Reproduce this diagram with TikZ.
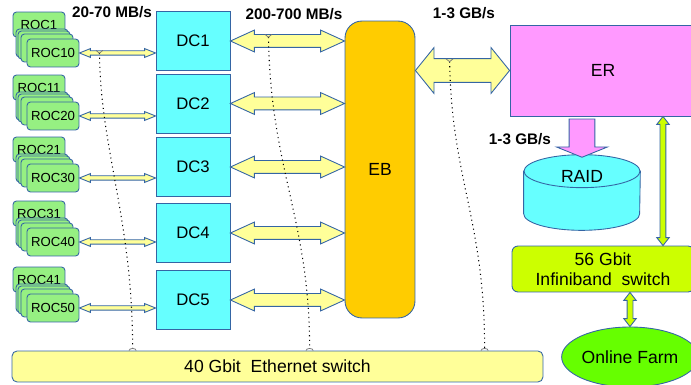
\documentclass[tikz,border=0pt]{standalone}
\usepackage{fontspec}
\setmainfont{Liberation Sans}
\usetikzlibrary{positioning,arrows.meta,calc,shapes.geometric,shapes.arrows}
\definecolor{lineblue}{RGB}{52,101,164}
\definecolor{dccyan}{RGB}{102,255,255}
\definecolor{rocgreen}{RGB}{150,240,130}
\definecolor{ebgold}{RGB}{255,204,0}
\definecolor{ermagenta}{RGB}{255,153,255}
\definecolor{paleyellow}{RGB}{255,255,153}
\definecolor{limeyellow}{RGB}{204,255,0}
\definecolor{farmgreen}{RGB}{102,255,0}
% block arrow laid between two points: style, from, to
\newcommand{\fatlink}[3]{%
  \path let \p1=(#2), \p2=(#3), \n1={veclen(\x2-\x1,\y2-\y1)}, \n2={atan2(\y2-\y1,\x2-\x1)}
    in node[#1,minimum height=\n1,rotate=\n2] at ($(#2)!0.5!(#3)$) {};}

\begin{document}
\begin{tikzpicture}[x=0.02cm,y=-0.02cm,>=Latex,
    box/.style={draw=lineblue,line width=0.5pt,align=center,inner sep=1pt},
    roccard/.style={box,fill=rocgreen,rounded corners=2pt,minimum width=1.04cm,minimum height=0.56cm,font=\fontsize{7.5}{8}\selectfont},
    dcbox/.style={box,fill=dccyan,minimum width=1.48cm,minimum height=1.18cm,font=\fontsize{9.5}{11}\selectfont},
    rate/.style={font=\fontsize{8.7}{10}\selectfont\bfseries},
    arrowbase/.style={draw=lineblue,line width=0.5pt,inner sep=0pt,text depth=0pt},
    thinlink/.style={arrowbase,double arrow,fill=paleyellow,text height=0.07cm,
      double arrow head extend=0.045cm,double arrow tip angle=44},
    fatlink/.style={arrowbase,double arrow,fill=paleyellow,text height=0.24cm,
      double arrow head extend=0.09cm,double arrow tip angle=49},
    erlink/.style={arrowbase,double arrow,fill=paleyellow,text height=0.46cm,
      double arrow head extend=0.22cm,double arrow tip angle=102},
    raidlink/.style={arrowbase,single arrow,fill=ermagenta,text height=0.5cm,
      single arrow head extend=0.25cm,single arrow tip angle=136},
    limelink/.style={arrowbase,double arrow,fill=limeyellow,text height=0.1cm,
      double arrow head extend=0.065cm,double arrow tip angle=76},
    tapline/.style={dotted,line width=0.6pt,{Straight Barb[reversed,length=1.6pt,width=4pt,black!55,line width=0.4pt]}-{Arc Barb[reversed,length=1.4pt,width=4.5pt,black!55,line width=0.4pt]}}]
  \useasboundingbox (0,0) rectangle (691,385);

  \node[box,fill=ebgold,rounded corners=0.34cm,minimum width=1.4cm,minimum height=5.94cm,font=\fontsize{10}{12}\selectfont] (eb) at (380,169.5) {EB};
  \node[box,fill=ermagenta,minimum width=3.72cm,minimum height=1.82cm,font=\fontsize{10}{12}\selectfont] (er) at (603,70.5) {ER};

  % readout crates and data concentrators
  \foreach \i/\t/\d/\a/\b in {1/0/41/1/10, 2/63/103.5/11/20, 3/125/167/21/30, 4/189/233/31/40, 5/255/300/41/50} {
    \node[roccard,minimum height=0.5cm] (roc\a) at (39,24.5+\t) {ROC\a};
    \node[roccard] (stack\i a) at (42,43+\t) {};
    \node[roccard] (stack\i b) at (44,45+\t) {};
    \node[roccard] (stack\i c) at (47,48+\t) {};
    \node[roccard] (roc\b) at (53,53+\t) {ROC\b};
    \node[dcbox] (dc\i) at (193,\d) {DC\i};
    \fatlink{thinlink}{roc\b.east}{roc\b.east -| dc\i.west}
    \fatlink{fatlink}{dc\i.east}{dc\i.east -| eb.west}
  }

  \node[box,fill=paleyellow,rounded corners=0.1cm,minimum width=10.62cm,minimum height=0.62cm,font=\fontsize{10}{12}\selectfont] (eth) at (277.5,366.5) {40 Gbit\ \ Ethernet switch};

  % disk store
  \node[minimum width=2.32cm,minimum height=1.5cm,inner sep=0pt] (raid) at (582,192.5) {};
  \filldraw[draw=lineblue,line width=0.5pt,fill=dccyan] ($(raid.north west)+(0,16.5)$) -- ($(raid.south west)+(0,-16.5)$)
    arc[start angle=180,end angle=360,x radius=1.16cm,y radius=0.33cm] -- ($(raid.north east)+(0,16.5)$) -- cycle;
  \filldraw[draw=lineblue,line width=0.5pt,fill=dccyan] ($(raid.north)+(0,16.5)$) ellipse[x radius=1.16cm,y radius=0.33cm];
  \node[font=\fontsize{10}{12}\selectfont] (raidtext) at ([yshift=-0.44cm]raid.north) {RAID};

  \node[box,fill=limeyellow,rounded corners=0.12cm,minimum width=3.64cm,minimum height=0.92cm,font=\fontsize{10}{11.5}\selectfont] (ib) at (603,269) {56 Gbit\\Infiniband\ \ switch};
  \node[ellipse,draw=lineblue,line width=0.5pt,fill=farmgreen,minimum width=2.72cm,minimum height=1.2cm,inner sep=0pt,font=\fontsize{10}{12}\selectfont] (farm) at (630,357) {Online Farm};

  \fatlink{erlink}{er.west -| eb.east}{er.west}
  \fatlink{raidlink}{raid.north |- er.south}{raid.north}
  \fatlink{limelink}{[xshift=1.2cm]er.south}{[xshift=1.2cm]er.south |- ib.north}
  \fatlink{limelink}{farm.north |- ib.south}{farm.north}

  \node[rate] (rate1) at (112,12) {20-70 MB/s};
  \node[rate] (rate2) at (294,14) {200-700 MB/s};
  \node[rate] (rate3) at (464,13) {1-3 GB/s};
  \node[rate] (rate4) at (520,139) {1-3 GB/s};

  % ethernet taps
  \coordinate (tap1) at ($(roc10.east)+(20,-3)$);
  \coordinate (tap2) at ($(dc1.east)+(38,-7)$);
  \coordinate (tap3) at ($(er.west)+(-60,-12)$);
  \coordinate (drop1) at ($(eth.north west)+(121,0)$);
  \coordinate (drop2) at ($(eth.north west)+(298,0)$);
  \coordinate (drop3) at ($(eth.north west)+(473,0)$);
  \draw[tapline] (tap1) .. controls +(1,100) and +(0,-131) .. (drop1);
  \draw[tapline] (tap2) .. controls +(2,135) and +(0,-131) .. (drop2);
  \draw[tapline] (tap3) .. controls +(2,121) and +(0,-131) .. (drop3);
\end{tikzpicture}
\end{document}
